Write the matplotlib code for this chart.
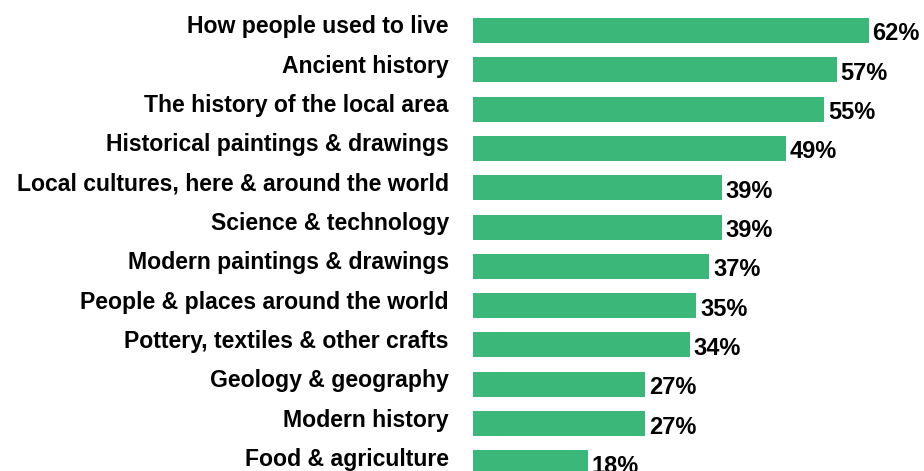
import matplotlib
matplotlib.use("Agg")
import matplotlib.pyplot as plt

categories = [
    "How people used to live",
    "Ancient history",
    "The history of the local area",
    "Historical paintings & drawings",
    "Local cultures, here & around the world",
    "Science & technology",
    "Modern paintings & drawings",
    "People & places around the world",
    "Pottery, textiles & other crafts",
    "Geology & geography",
    "Modern history",
    "Food & agriculture",
]
values = [62, 57, 55, 49, 39, 39, 37, 35, 34, 27, 27, 18]
value_labels = [f"{v}%" for v in values]

BAR_COLOR = "#3BB77A"
FONT = "Liberation Sans"

W, H, DPI = 924, 471, 100
fig = plt.figure(figsize=(W / DPI, H / DPI), dpi=DPI)

left_px = 473
ax = fig.add_axes([left_px / W, 0, 1 - left_px / W, 1])

px_per_unit = 6.38
pitch = 39.3
first_center = 30.5
ax.set_xlim(0, (W - left_px) / px_per_unit)
ax.set_ylim((H - first_center) / pitch, -first_center / pitch)

ypos = list(range(len(categories)))
ax.barh(ypos, values, height=25 / pitch, color=BAR_COLOR, edgecolor="none")

for y, v, lab, cat in zip(ypos, values, value_labels, categories):
    ax.annotate(lab, xy=(v, y), xytext=(4, -10), textcoords="offset pixels",
                ha="left", va="baseline", fontsize=17, fontweight="bold",
                family=FONT, color="black", annotation_clip=False)
    ax.annotate(cat, xy=(0, y), xytext=(-24, -3), textcoords="offset pixels",
                ha="right", va="baseline", fontsize=16.6, fontweight="bold",
                family=FONT, color="black", annotation_clip=False)

ax.axis("off")
fig.savefig("out.png", dpi=DPI)
